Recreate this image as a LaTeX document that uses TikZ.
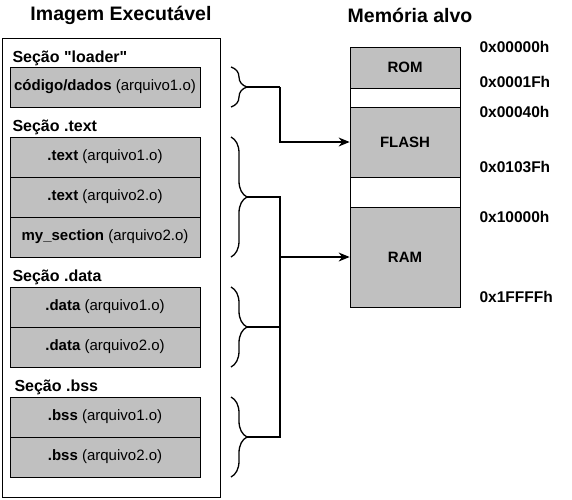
\documentclass[tikz,border=0pt]{standalone}
\usepackage{fontspec}
\setmainfont{Liberation Sans}[Ligatures=TeXOff]
\usetikzlibrary{arrows.meta,decorations.pathreplacing}
\definecolor{boxgray}{RGB}{192,192,192}

\begin{document}
\begin{tikzpicture}[x = 1pt, y = -1pt,
  titl/.style = {font=\fontsize{19.5}{22}\selectfont\bfseries},
  sec/.style = {anchor=west, font=\fontsize{16}{19}\selectfont\bfseries},
  part/.style = {draw, fill=boxgray, line width=0.8pt, minimum width=190pt, minimum height=40pt, inner sep=0pt, font=\fontsize{15}{18}\selectfont},
  mem/.style = {draw, line width=0.8pt, minimum width=110pt, inner sep=0pt, font=\fontsize{15}{18}\selectfont\bfseries},
  addr/.style = {anchor=west, font=\fontsize{15.5}{18}\selectfont\bfseries},
  brc/.style = {decorate, decoration={brace, amplitude=16pt}, line width=1.3pt},
  link/.style = {line width=1.3pt}]
\useasboundingbox (0,0) rectangle (572,499);
\node [titl] (imgtitle) at (121,15) {Imagem Executável};
\node [titl] (memtitle) at (410,15) {Memória alvo};
\draw [line width=0.8pt] (2,38) rectangle (220,497);
% secoes da imagem
\node [sec] (secloader) at (9,58) {Seção "loader"};
\node [part] (loader) at (105,87) {{\bfseries código/dados} (arquivo1.o)};
\node [sec] (sectext) at (9,127) {Seção .text};
\node [part] (text1) at (105,157) {{\bfseries .text} (arquivo1.o)};
\node [part] (text2) at (105,197) {{\bfseries .text} (arquivo2.o)};
\node [part] (mysec) at (105,237) {{\bfseries my\_section} (arquivo2.o)};
\node [sec] (secdata) at (9,277) {Seção .data};
\node [part] (data1) at (105,307) {{\bfseries .data} (arquivo1.o)};
\node [part] (data2) at (105,347) {{\bfseries .data} (arquivo2.o)};
\node [sec] (secbss) at (11,387) {Seção .bss};
\node [part] (bss1) at (105,417) {{\bfseries .bss} (arquivo1.o)};
\node [part] (bss2) at (105,457) {{\bfseries .bss} (arquivo2.o)};
% memoria alvo
\node [mem, fill=boxgray, minimum height=41pt] (rom) at (405,67.5) {ROM};
\node [mem, minimum height=19pt] (gapa) at (405,97.5) {};
\node [mem, fill=boxgray, minimum height=70pt] (flash) at (405,142) {FLASH};
\node [mem, minimum height=30pt] (gapb) at (405,192) {};
\node [mem, fill=boxgray, minimum height=100pt] (ram) at (405,257) {RAM};
\node [addr] (a0) at (476,47) {0x00000h};
\node [addr] (a1) at (476,82) {0x0001Fh};
\node [addr] (a2) at (476,112) {0x00040h};
\node [addr] (a3) at (476,167) {0x0103Fh};
\node [addr] (a4) at (476,217) {0x10000h};
\node [addr] (a5) at (476,297) {0x1FFFFh};
% chaves
\draw [brc] (231,67) -- (231,107);
\draw [brc] (231,137) -- (231,257);
\draw [brc] (231,287) -- (231,367);
\draw [brc] (231,397) -- (231,477);
\coordinate (tiploader) at (247,87);
\coordinate (tiptext) at (247,197);
\coordinate (tipdata) at (247,327);
\coordinate (tipbss) at (247,437);
\coordinate (busa) at (280,87);
\coordinate (busb) at (280,197);
\coordinate (busc) at (280,437);
\coordinate (busd) at (280,327);
\coordinate (busr) at (280,257);
% ligacoes
\draw [link] (tiploader) -- (busa);
\draw [link, -{Stealth[length=11pt,width=9pt]}] (busa) |- (flash.west);
\draw [link] (tiptext) -- (busb) -- (busc) -- (tipbss);
\draw [link] (tipdata) -- (busd);
\draw [link, -{Stealth[length=11pt,width=9pt]}] (busr) -- (ram.west);
\end{tikzpicture}
\end{document}
